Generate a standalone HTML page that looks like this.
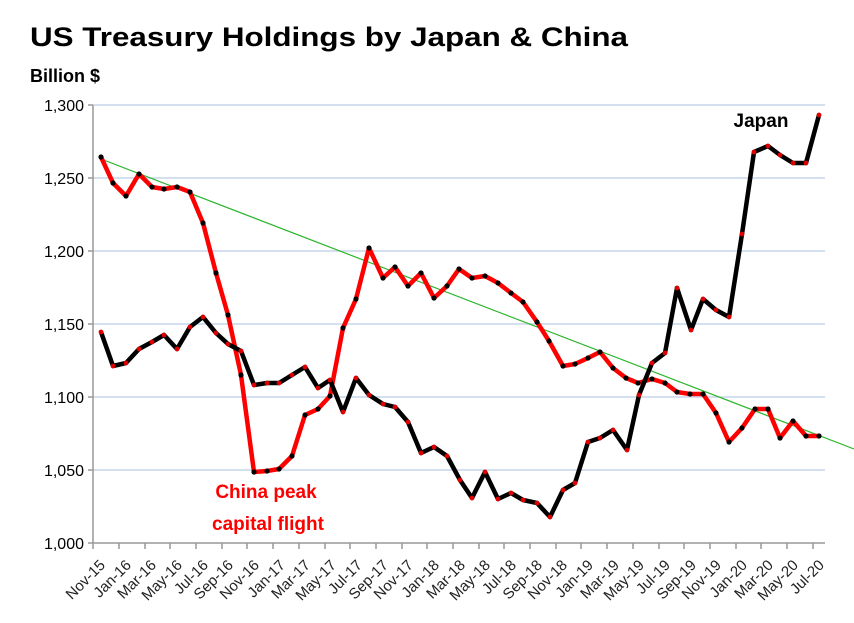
<!DOCTYPE html>
<html><head><meta charset="utf-8"><style>body{margin:0;background:#fff}svg{display:block}</style></head><body>
<svg width="854" height="623" viewBox="0 0 854 623" xmlns="http://www.w3.org/2000/svg" font-family="Liberation Sans, sans-serif">
<defs>
<marker id="mb" markerUnits="userSpaceOnUse" markerWidth="8" markerHeight="8" refX="4" refY="4"><circle cx="4" cy="4" r="2.6" fill="#000"/></marker>
<marker id="mr" markerUnits="userSpaceOnUse" markerWidth="8" markerHeight="8" refX="4" refY="4"><circle cx="4" cy="4" r="2.4" fill="#d00"/></marker>
</defs>
<rect width="854" height="623" fill="#fff"/>
<text x="30" y="46" font-size="27" font-weight="bold" textLength="598" lengthAdjust="spacingAndGlyphs">US Treasury Holdings by Japan &amp; China</text>
<text x="30" y="82" font-size="18" font-weight="bold">Billion $</text>
<g stroke="#c6d6ec" stroke-width="1.5">
<line x1="93" y1="105" x2="825" y2="105"/><line x1="93" y1="178" x2="825" y2="178"/><line x1="93" y1="251" x2="825" y2="251"/><line x1="93" y1="324" x2="825" y2="324"/><line x1="93" y1="397" x2="825" y2="397"/><line x1="93" y1="470" x2="825" y2="470"/>
</g>
<g stroke="#999" stroke-width="1.5">
<line x1="93" y1="105" x2="93" y2="543"/><line x1="93" y1="543" x2="825" y2="543"/>
<path d="M88 105H93M88 178H93M88 251H93M88 324H93M88 397H93M88 470H93M88 543H93"/>
<path d="M93 543v6M119 543v6M145 543v6M170 543v6M196 543v6M222 543v6M247 543v6M273 543v6M299 543v6M325 543v6M350 543v6M376 543v6M402 543v6M427 543v6M453 543v6M479 543v6M504 543v6M530 543v6M556 543v6M581 543v6M607 543v6M633 543v6M659 543v6M684 543v6M710 543v6M736 543v6M761 543v6M787 543v6M813 543v6"/>
</g>
<g font-size="16" text-anchor="end">
<text x="84" y="111">1,300</text><text x="84" y="184">1,250</text><text x="84" y="257">1,200</text><text x="84" y="330">1,150</text><text x="84" y="403">1,100</text><text x="84" y="476">1,050</text><text x="84" y="549">1,000</text>
</g>
<line x1="101" y1="159" x2="854" y2="449" stroke="#2db52d" stroke-width="1.2"/>
<polyline fill="none" stroke="#f00" stroke-width="4.5" stroke-linejoin="round" marker-start="url(#mb)" marker-mid="url(#mb)" marker-end="url(#mb)" points="101,157 113,183 126,196 139,174 152,187 164,189 177,187 190,192 203,223 216,273 228,315 241,375 254,472 267,471 279,469 292,456 305,415 318,409 330,396 343,328 356,299 369,248 383,278 395,267 408,286 421,273 434,298 447,286 459,269 472,278 485,276 498,283 511,293 523,302 537,322 549,341 563,366 575,364 588,358 600,352 613,368 626,378 638,383 652,379 665,383 677,392 690,394 703,394 716,413 729,442 742,428 755,409 768,409 780,438 793,421 806,436 819,436"/>
<polyline fill="none" stroke="#000" stroke-width="4.5" stroke-linejoin="round" marker-start="url(#mr)" marker-mid="url(#mr)" marker-end="url(#mr)" points="101,332 113,366 126,363 139,349 152,342 164,335 177,349 190,327 203,317 216,333 228,344 241,351 254,385 267,383 279,383 292,375 305,367 318,388 330,380 343,412 356,378 369,395 383,404 395,407 408,422 421,453 434,447 447,456 460,480 472,498 485,472 498,499 511,493 523,500 537,503 550,517 563,490 575,483 588,442 600,438 613,430 627,450 639,395 652,363 665,353 677,288 691,330 703,299 716,310 729,317 742,234 754,152 768,146 780,155 793,163 806,163 819,115"/>
<g font-size="15" text-anchor="end" fill="#222">
<text transform="translate(106,566) rotate(-45)">Nov-15</text>
<text transform="translate(132,566) rotate(-45)">Jan-16</text>
<text transform="translate(157,566) rotate(-45)">Mar-16</text>
<text transform="translate(183,566) rotate(-45)">May-16</text>
<text transform="translate(209,566) rotate(-45)">Jul-16</text>
<text transform="translate(234,566) rotate(-45)">Sep-16</text>
<text transform="translate(260,566) rotate(-45)">Nov-16</text>
<text transform="translate(286,566) rotate(-45)">Jan-17</text>
<text transform="translate(311,566) rotate(-45)">Mar-17</text>
<text transform="translate(337,566) rotate(-45)">May-17</text>
<text transform="translate(363,566) rotate(-45)">Jul-17</text>
<text transform="translate(389,566) rotate(-45)">Sep-17</text>
<text transform="translate(414,566) rotate(-45)">Nov-17</text>
<text transform="translate(440,566) rotate(-45)">Jan-18</text>
<text transform="translate(466,566) rotate(-45)">Mar-18</text>
<text transform="translate(491,566) rotate(-45)">May-18</text>
<text transform="translate(517,566) rotate(-45)">Jul-18</text>
<text transform="translate(543,566) rotate(-45)">Sep-18</text>
<text transform="translate(568,566) rotate(-45)">Nov-18</text>
<text transform="translate(594,566) rotate(-45)">Jan-19</text>
<text transform="translate(620,566) rotate(-45)">Mar-19</text>
<text transform="translate(645,566) rotate(-45)">May-19</text>
<text transform="translate(671,566) rotate(-45)">Jul-19</text>
<text transform="translate(697,566) rotate(-45)">Sep-19</text>
<text transform="translate(722,566) rotate(-45)">Nov-19</text>
<text transform="translate(748,566) rotate(-45)">Jan-20</text>
<text transform="translate(774,566) rotate(-45)">Mar-20</text>
<text transform="translate(799,566) rotate(-45)">May-20</text>
<text transform="translate(825,566) rotate(-45)">Jul-20</text>
</g>
<g font-size="19" font-weight="bold" fill="#f00" text-anchor="middle">
<text x="266" y="498">China peak</text>
<text x="268" y="530">capital flight</text>
</g>
<text x="761" y="127" font-size="19" font-weight="bold" text-anchor="middle">Japan</text>
</svg>
</body></html>
